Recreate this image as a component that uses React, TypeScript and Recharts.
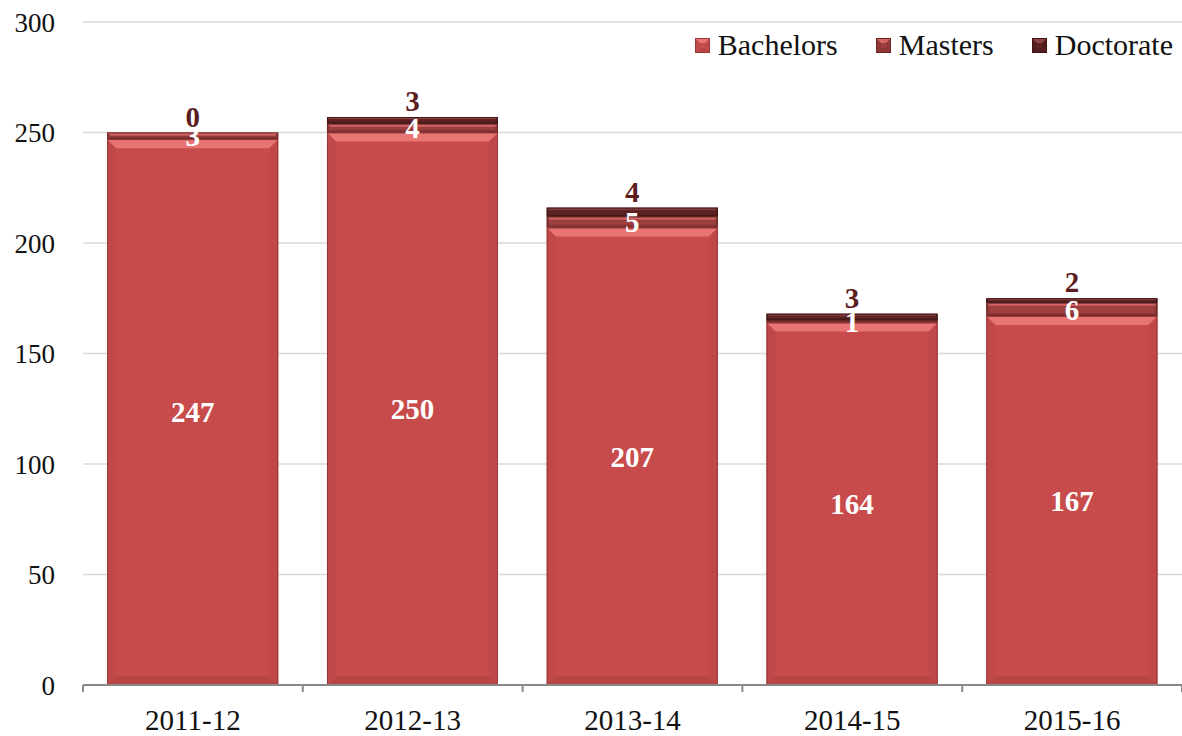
import React from "react";
import {
  BarChart,
  Bar,
  XAxis,
  YAxis,
  CartesianGrid,
  Legend,
  LabelList,
} from "recharts";

const years = ["2011-12", "2012-13", "2013-14", "2014-15", "2015-16"];
const bachelors = [247, 250, 207, 164, 167];
const masters = [3, 4, 5, 1, 6];
const doctorate = [0, 3, 4, 3, 2];
const yTicks = [0, 50, 100, 150, 200, 250, 300];

const data = years.map((year, i) => ({
  year,
  Bachelors: bachelors[i],
  Masters: masters[i],
  Doctorate: doctorate[i],
}));

const W = 1182;
const H = 736;
const MARGIN = { top: 22, right: 0, bottom: 0, left: 0 };
const Y_AXIS_W = 83;
const X_AXIS_H = 51;
const PLOT_W = W - MARGIN.left - MARGIN.right - Y_AXIS_W;
const PLOT_BOTTOM = H - MARGIN.bottom - X_AXIS_H;
const FONT = "'Liberation Serif', 'DejaVu Serif', serif";

const palette = {
  Bachelors: { base: "#C84B4B", light: "#E97474", side: "#C04848", edge: "#9A3838" },
  Masters: { base: "#9E4040", light: "#D46565", side: "#8E3838", edge: "#6A2626" },
  Doctorate: { base: "#5E2222", light: "#8E4545", side: "#541E1E", edge: "#3E1414" },
};

type Colors = { base: string; light: string; side: string; edge: string };

function bevel(c: Colors, maxB: number) {
  return (props: any) => {
    const { x, y, width, height } = props;
    if (!height || height <= 0) return <g />;
    const b = Math.min(maxB, height / 2, width / 2);
    return (
      <g>
        <rect x={x} y={y} width={width} height={height} fill={c.base} />
        <polygon
          points={`${x},${y} ${x + b},${y + b} ${x + b},${y + height - b} ${x},${y + height}`}
          fill={c.side}
        />
        <polygon
          points={`${x + width},${y} ${x + width - b},${y + b} ${x + width - b},${y + height - b} ${x + width},${y + height}`}
          fill={c.side}
        />
        <polygon
          points={`${x},${y + height} ${x + b},${y + height - b} ${x + width - b},${y + height - b} ${x + width},${y + height}`}
          fill={c.edge}
          opacity={0.35}
        />
        <polygon
          points={`${x},${y} ${x + width},${y} ${x + width - b},${y + b} ${x + b},${y + b}`}
          fill={c.light}
        />
        <rect
          x={x + 0.5}
          y={y + 0.5}
          width={width - 1}
          height={Math.max(height - 1, 0)}
          fill="none"
          stroke={c.edge}
          strokeWidth={1}
        />
      </g>
    );
  };
}

const XTick = (props: any) => {
  const { x, payload, index } = props;
  const step = PLOT_W / years.length;
  const last = index === years.length - 1;
  return (
    <g>
      <line x1={x - step / 2} x2={x - step / 2} y1={PLOT_BOTTOM} y2={PLOT_BOTTOM + 7} stroke="#898989" strokeWidth={2} />
      {last && (
        <line x1={x + step / 2} x2={x + step / 2} y1={PLOT_BOTTOM} y2={PLOT_BOTTOM + 7} stroke="#898989" strokeWidth={2} />
      )}
      <text x={x} y={PLOT_BOTTOM + 45} textAnchor="middle" fontSize={29} fontFamily={FONT} fill="#111">
        {payload.value}
      </text>
    </g>
  );
};

const LegendIcon = ({ c }: { c: Colors }) => {
  const Shape = bevel(c, 5);
  return (
    <svg width={15} height={15} style={{ marginRight: 8 }}>
      <Shape x={0} y={0} width={15} height={15} />
    </svg>
  );
};

const legendItems = ["Bachelors", "Masters", "Doctorate"] as const;

const LegendContent = () => (
  <div style={{ display: "flex", alignItems: "center", fontFamily: FONT, fontSize: 30, color: "#111" }}>
    {legendItems.map((k, i) => (
      <div key={k} style={{ display: "flex", alignItems: "center", marginLeft: i === 0 ? 0 : 38 }}>
        <LegendIcon c={palette[k]} />
        <span>{k}</span>
      </div>
    ))}
  </div>
);

export default function App() {
  return (
    <div style={{ position: "absolute", left: 0, top: 0, width: W, height: H, background: "#fff", fontFamily: FONT }}>
      <BarChart width={W} height={H} data={data} margin={MARGIN} barCategoryGap="11%">
        <CartesianGrid vertical={false} stroke="#D9D9D9" strokeWidth={1.5} />
        <XAxis
          dataKey="year"
          height={X_AXIS_H}
          axisLine={{ stroke: "#898989", strokeWidth: 2 }}
          tickLine={false}
          tick={<XTick />}
          interval={0}
        />
        <YAxis
          width={Y_AXIS_W}
          domain={[0, 300]}
          ticks={yTicks}
          axisLine={false}
          tickLine={false}
          tickMargin={22}
          tick={{ fontSize: 27, fontFamily: FONT, fill: "#111" }}
        />
        <Legend
          layout="horizontal"
          verticalAlign="middle"
          align="center"
          wrapperStyle={{ top: 28, right: 9, left: "auto", width: "auto" }}
          content={<LegendContent />}
        />
        <Bar dataKey="Bachelors" stackId="a" fill={palette.Bachelors.base} shape={bevel(palette.Bachelors, 9)} isAnimationActive={false}>
          <LabelList dataKey="Bachelors" position="center" fill="#fff" fontSize={29} fontWeight="bold" fontFamily={FONT} />
        </Bar>
        <Bar dataKey="Masters" stackId="a" fill={palette.Masters.base} shape={bevel(palette.Masters, 3)} isAnimationActive={false}>
          <LabelList dataKey="Masters" position="center" fill="#fff" fontSize={29} fontWeight="bold" fontFamily={FONT} />
        </Bar>
        <Bar dataKey="Doctorate" stackId="a" fill={palette.Doctorate.base} shape={bevel(palette.Doctorate, 2)} isAnimationActive={false}>
          <LabelList dataKey="Doctorate" position="top" offset={6} fill="#5C1E1E" fontSize={29} fontWeight="bold" fontFamily={FONT} />
        </Bar>
      </BarChart>
    </div>
  );
}
